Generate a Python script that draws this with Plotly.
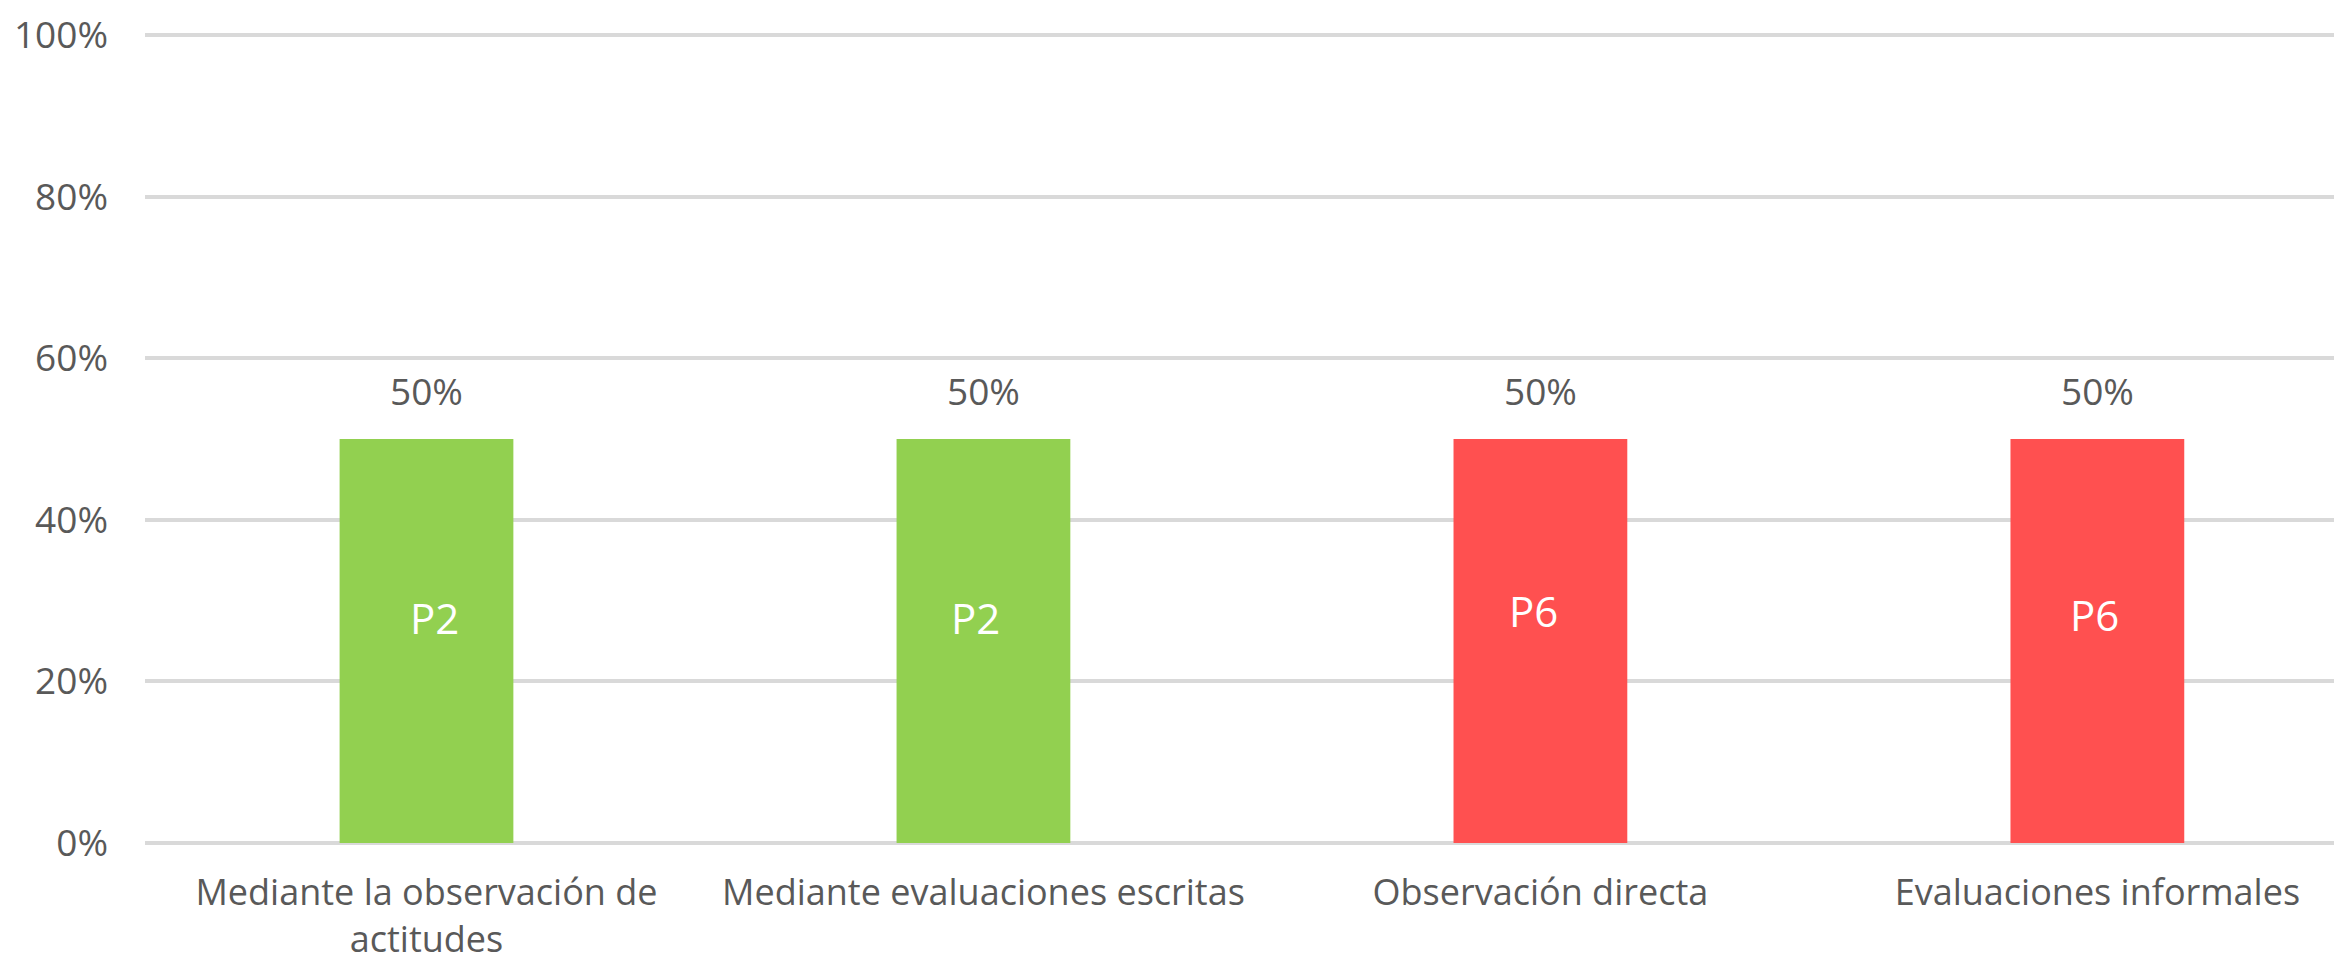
import plotly.graph_objects as go

categories = ["Mediante la observación de<br>actitudes", "Mediante evaluaciones escritas",
              "Observación directa", "Evaluaciones informales"]
values = [0.5, 0.5, 0.5, 0.5]
inner_labels = ["P2", "P2", "P6", "P6"]
colors = ["#92D050", "#92D050", "#FF5050", "#FF5050"]
tick_vals = [0, 0.2, 0.4, 0.6, 0.8, 1.0]
tick_text = ["0%", "20%", "40%", "60%", "80%", "100%"]

# small manual nudges (px) of the inner labels, as placed in the original
inner_xshift = [8, -8, -7, -3]
inner_yshift = [24, 24, 31, 27]

FONT = "Open Sans"
GRAY = "#595959"

fig = go.Figure()
fig.add_trace(go.Bar(
    x=categories, y=values, marker=dict(color=colors, line=dict(width=0)),
    width=0.312, hoverinfo="skip", showlegend=False,
))

annotations = []
for c, v, lab, dx, dy in zip(categories, values, inner_labels, inner_xshift, inner_yshift):
    annotations.append(dict(x=c, y=v, xref="x", yref="y", text=f"{v:.0%}",
                            showarrow=False, yanchor="bottom", yshift=21,
                            font=dict(family=FONT, size=37, color=GRAY)))
    annotations.append(dict(x=c, y=v / 2, xref="x", yref="y", text=lab,
                            showarrow=False, yanchor="middle", yshift=dy, xshift=dx,
                            font=dict(family=FONT, size=42, color="#FFFFFF")))

fig.update_layout(
    width=2342, height=958,
    margin=dict(l=137, r=0, t=23, b=123, pad=0),
    paper_bgcolor="white", plot_bgcolor="white",
    font=dict(family=FONT, size=36, color=GRAY),
    annotations=annotations,
    xaxis=dict(range=[-0.5054, 3.4536], showgrid=False, zeroline=False, showline=False,
               ticks="", tickfont=dict(family=FONT, size=36, color=GRAY),
               ticklabelstandoff=25, tickangle=0, ticklabeloverflow="allow"),
    yaxis=dict(range=[0, 1.005], tickvals=tick_vals, ticktext=tick_text,
               showgrid=True, gridcolor="#D9D9D9", gridwidth=4,
               zeroline=True, zerolinecolor="#D9D9D9", zerolinewidth=4,
               showline=False, ticks="", ticklabelstandoff=36,
               ticklabeloverflow="allow",
               tickfont=dict(family=FONT, size=37, color=GRAY)),
)

fig.write_html("out.html")
